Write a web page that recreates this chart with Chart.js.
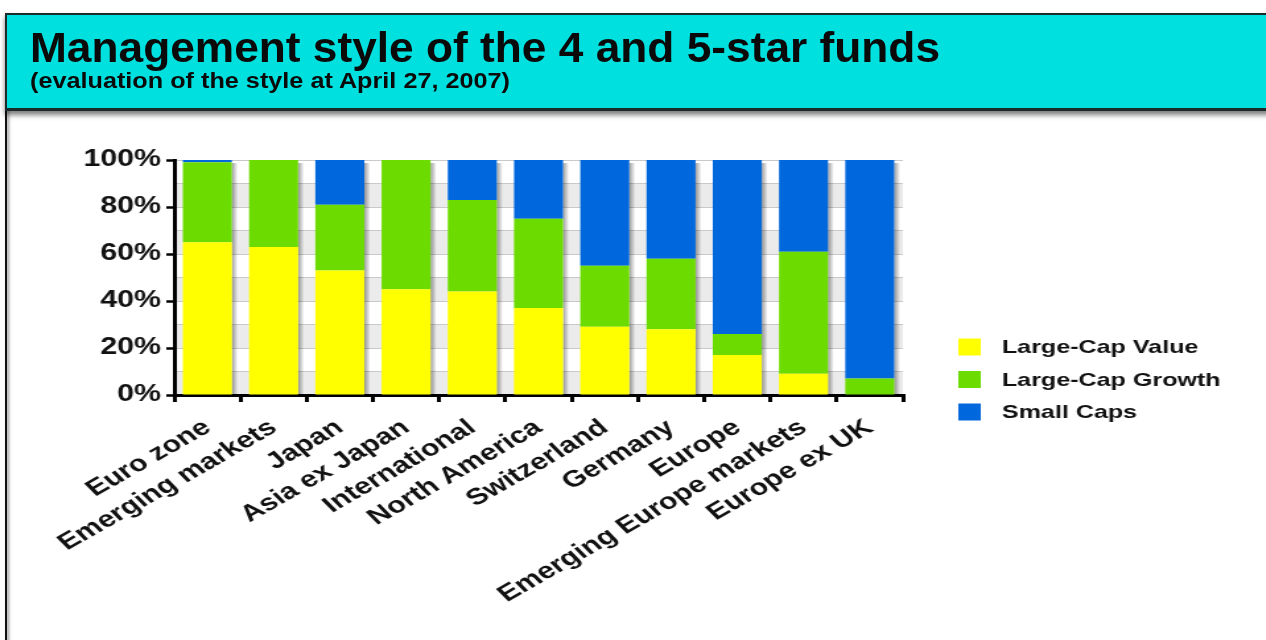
<!DOCTYPE html>
<html>
<head>
<meta charset="utf-8">
<script src="https://cdn.jsdelivr.net/npm/chart.js@4.4.1/dist/chart.umd.min.js"></script>
<style>
  html, body { margin: 0; padding: 0; background: #fff; overflow: hidden; }
  #page { position: relative; width: 1266px; height: 640px; overflow: hidden; background: #fff; }
  #stretch { position: absolute; left: 0; top: 0; width: 959px; height: 640px;
             transform: scaleX(1.32); transform-origin: 0 0; }
  #frame { position: absolute; left: 5px; top: 14px; bottom: -10px; width: 2px;
           background: #111; box-shadow: 2px 0 3px rgba(0,0,0,.45); }
  #header { position: absolute; left: 5px; top: 13px; width: 1280px; height: 93px;
            background: #00e0df; border-top: 2px solid #1b2b2b; border-left: 2px solid #1b2b2b;
            border-bottom: 3px solid #1b2b2b; box-shadow: 0 4px 5px rgba(0,0,0,.5); }
  #titles { position: absolute; left: 0; top: 0; }
  #titles text { font-family: "Liberation Sans", Arial, sans-serif; font-weight: bold; fill: #0a0a0a; }
</style>
</head>
<body>
<div id="page">
  <div id="stretch"><canvas id="chart" width="959" height="640" style="width:959px;height:640px"></canvas></div>
  <div id="frame"></div>
  <div id="header"></div>
  <svg id="titles" width="1266" height="120">
    <text x="30" y="62" font-size="43" textLength="910" lengthAdjust="spacingAndGlyphs">Management style of the 4 and 5-star funds</text>
    <text x="30" y="88" font-size="22" textLength="480" lengthAdjust="spacingAndGlyphs">(evaluation of the style at April 27, 2007)</text>
  </svg>
</div>
<script>
// Fund regions, in display order
const categories = ['Euro zone', 'Emerging markets', 'Japan', 'Asia ex Japan', 'International',
  'North America', 'Switzerland', 'Germany', 'Europe', 'Emerging Europe markets', 'Europe ex UK'];

// Share of funds per management style (%)
const largeCapValue  = [65, 63, 53, 45, 44, 37, 29, 28, 17,  9,  0];
const largeCapGrowth = [34, 37, 28, 55, 39, 38, 26, 30,  9, 52,  7];
const smallCaps      = [ 1,  0, 19,  0, 17, 25, 45, 42, 74, 39, 93];

const seriesNames = ['Large-Cap Value', 'Large-Cap Growth', 'Small Caps'];
const seriesColors = ['#ffff00', '#6cdc00', '#0068dc'];

// Y axis tick values (every 10%, labelled every 20%)
const yTicks = [0, 10, 20, 30, 40, 50, 60, 70, 80, 90, 100];

const FONT = '"Liberation Sans", Arial, sans-serif';

// Alternating light grey horizontal bands behind the plot
const bandsPlugin = {
  id: 'bands',
  beforeDraw(chart) {
    const { ctx, chartArea: a, scales: { y } } = chart;
    ctx.save();
    ctx.fillStyle = '#ebebeb';
    for (let i = 0; i + 1 < yTicks.length; i += 2) {
      const top = y.getPixelForValue(yTicks[i + 1]);
      const bot = y.getPixelForValue(yTicks[i]);
      ctx.fillRect(a.left, top, a.right - a.left, bot - top);
    }
    ctx.restore();
  }
};

// Soft drop shadow on the right side of each stacked column
const shadowPlugin = {
  id: 'colShadow',
  beforeDatasetsDraw(chart) {
    const { ctx, scales: { y } } = chart;
    const meta = chart.getDatasetMeta(0);
    const top = y.getPixelForValue(100) + 3;
    const bottom = y.getPixelForValue(0);
    ctx.save();
    meta.data.forEach(bar => {
      const right = bar.x + bar.width / 2;
      const g = ctx.createLinearGradient(right, 0, right + 4.5, 0);
      g.addColorStop(0, 'rgba(0,0,0,0.38)');
      g.addColorStop(1, 'rgba(0,0,0,0)');
      ctx.fillStyle = g;
      ctx.fillRect(right, top, 4.5, bottom - top);
    });
    ctx.restore();
  }
};

// Legend at the right of the plot
const sideLegend = {
  id: 'sideLegend',
  afterDraw(chart) {
    const { ctx } = chart;
    const x = 726, y0 = 347, step = 32.5, box = 17;
    ctx.save();
    ctx.font = 'bold 19px ' + FONT;
    ctx.textBaseline = 'middle';
    chart.data.datasets.forEach((ds, i) => {
      const cy = y0 + i * step;
      ctx.fillStyle = ds.backgroundColor;
      ctx.fillRect(x, cy - box / 2, box, box);
      ctx.fillStyle = '#111';
      ctx.fillText(ds.label, x + 33, cy + 1);
    });
    ctx.restore();
  }
};

const seriesData = [largeCapValue, largeCapGrowth, smallCaps];

new Chart(document.getElementById('chart'), {
  type: 'bar',
  data: {
    labels: categories,
    datasets: seriesData.map((d, i) => ({
      label: seriesNames[i],
      data: d,
      backgroundColor: seriesColors[i],
      borderWidth: 0,
      barPercentage: 0.74,
      categoryPercentage: 1
    }))
  },
  options: {
    responsive: false,
    animation: false,
    devicePixelRatio: 1,
    layout: { padding: { left: 32, right: 275, top: 160, bottom: 0 } },
    plugins: { legend: { display: false }, tooltip: { enabled: false } },
    scales: {
      x: {
        stacked: true,
        afterFit(scale) { scale.height = 245; },
        border: { color: '#000', width: 3 },
        grid: { offset: true, drawOnChartArea: false, color: '#000', lineWidth: 3, tickLength: 7 },
        ticks: {
          autoSkip: false, maxRotation: 37, minRotation: 37, padding: 12,
          color: '#111', font: { family: FONT, size: 23, weight: 'bold' }
        }
      },
      y: {
        stacked: true, min: 0, max: 100,
        afterFit(scale) { scale.width = 100; },
        afterBuildTicks(scale) { scale.ticks = yTicks.map(v => ({ value: v })); },
        border: { color: '#000', width: 3 },
        grid: {
          color: '#c9c9c9', lineWidth: 1, tickLength: 6, tickWidth: 2.5,
          tickColor: c => (c.tick && c.tick.value % 20 === 0) ? '#000' : 'rgba(0,0,0,0)'
        },
        ticks: {
          autoSkip: false, padding: 4, color: '#111',
          font: { family: FONT, size: 23, weight: 'bold' },
          callback: v => (v % 20 === 0 ? v + '%' : '')
        }
      }
    }
  },
  plugins: [bandsPlugin, shadowPlugin, sideLegend]
});
</script>
</body>
</html>
